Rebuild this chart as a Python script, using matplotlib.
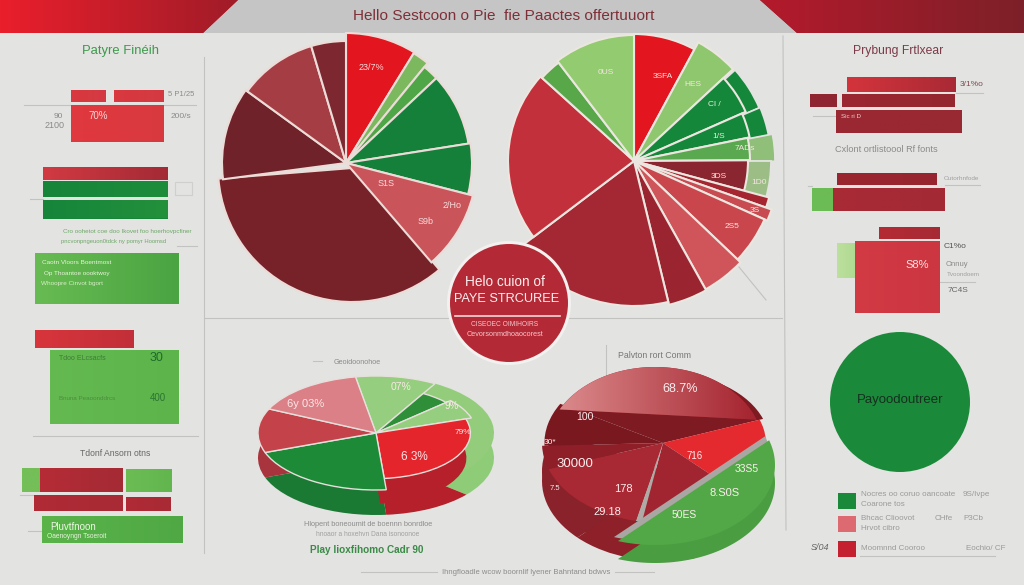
import numpy as np
import matplotlib
matplotlib.use("Agg")
import matplotlib.pyplot as plt
from matplotlib.colors import LinearSegmentedColormap
from matplotlib.patches import Circle, Polygon, Rectangle
from matplotlib.transforms import Affine2D

plt.rcParams["font.family"] = ["Liberation Sans", "DejaVu Sans"]

# === Chart values ===
pie_left_values = [8.8, 2.1, 2.1, 9.5, 6.5, 9.7, 34.2, 12.1, 10.4, 4.6]
pie_left_labels = ["23/7%", "S1S", "2/Ho", "S9b"]

pie_right_values = [7.9, 5.2, 5.3, 3.4, 3.1, 4.3, 1.2, 1.3, 5.4, 4.8, 4.3, 18.5, 22.0, 2.9, 10.4]
pie_right_labels = ["0US", "3SFA", "HES", "Cl /", "1/S", "7ADs", "3DS", "1D0", "3S", "2S5"]

pie3d_left_values = [40, 18, 24, 103, 75, 45, 55]
pie3d_left_labels = ["6y 03%", "07%", "9%", "79%", "6 3%"]

pie3d_right_values = [130, 65, 55, 3, 58, 17, 32]
pie3d_right_labels = ["68.7%", "100", "30*", "30000", "7.5", "178", "29.18", "716", "33S5", "8.S0S", "50ES"]

left_bar_widths = [35, 50, 93, 125, 125, 125, 144, 99, 129, 18, 83, 46, 89, 45, 141]
right_bar_widths = [109, 27, 113, 126, 100, 21, 112, 61, 18, 85]

# === Colours and layout ===
BG = "#e3e3e1"
GREEN = "#1a8a3a"
GREY = "#8a8a8a"

# left edge, centre y, height, left colour, right colour
left_bar_layout = [
    (71, 96, 12, "#d9383f", "#d43a42"), (114, 96, 12, "#d9383f", "#d43a42"),
    (71, 123.5, 37, "#e0383e", "#d83a40"), (43, 173.5, 13, "#d23a42", "#a32a35"),
    (43, 189, 16, "#16853a", "#1d8c3a"), (43, 209, 19, "#16853a", "#23903c"),
    (35, 278.5, 51, "#68bb52", "#4aa442"), (35, 339, 18, "#d8353c", "#c22f38"),
    (50, 387, 74, "#64ba50", "#5cb44a"), (22, 480, 24, "#74bf58", "#74bf58"),
    (40, 480, 24, "#b52c36", "#a42a34"), (126, 480.5, 23, "#6cbc54", "#62b64e"),
    (34, 503, 16, "#b02b36", "#a82a34"), (126, 504, 14, "#b02b36", "#a82a34"),
    (42, 529.5, 27, "#5ab44a", "#4fa844"),
]
right_bar_layout = [
    (847, 84.5, 15, "#d4343c", "#a92a35"), (810, 100.5, 13, "#8f2530", "#8f2530"),
    (842, 100.5, 13, "#9a2731", "#952630"), (836, 121.5, 23, "#9b2832", "#982832"),
    (837, 179, 12, "#9a2630", "#97252f"), (812, 199.5, 23, "#6cbc55", "#6cbc55"),
    (833, 199.5, 23, "#a82a35", "#a32a35"), (879, 233, 12, "#b52b34", "#a62a33"),
    (837, 260.5, 35, "#bce09e", "#b0da92"), (855, 277, 72, "#d23a44", "#cc3640"),
]

legend_swatches = [(838, 500.5, "#1a8a3a"), (838, 524, "#dd6a70"), (838, 548.5, "#c4202f")]

rules = [
    (204, 57, 204, 553), (783, 36, 786, 530), (205, 318, 782, 318), (33, 436, 198, 436),
    (24, 105, 196, 105), (30, 199, 43, 199), (177, 246, 197, 246), (80, 391, 167, 391),
    (20, 495, 34, 495), (28, 531, 42, 531), (956, 93, 983, 93), (813, 116, 836, 116),
    (945, 185, 980, 185), (808, 186, 812, 186), (940, 282, 975, 282), (860, 556, 995, 556),
    (361, 572, 437, 572), (615, 572, 654, 572), (606, 345, 606, 378), (313, 361, 322, 361),
    (739, 267, 766, 300),
]

captions = [
    # x, y, text, size, colour, weight
    (504, 16, "Hello Sestcoon o Pie  fie Paactes offertuuort", 11.1, "#7d3038", "normal"),
    (121, 51, "Patyre Finéih", 9.4, "#3c9a4c", "normal"),
    (898, 51, "Prybung Frtlxear", 8.7, "#7d3a48", "normal"),
    (181, 95, "5 P1/25", 5.5, GREY, "normal"), (58, 116, "90", 6, GREY, "normal"),
    (55, 125, "2100", 6.5, GREY, "normal"), (98, 116, "70%", 7, "#f6d6d6", "normal"),
    (181, 116, "200/s", 6, GREY, "normal"),
    (127, 232, "Cro oohetot coe doo Ikovet foo hoerhovpcfiner", 4.5, "#6da868", "normal"),
    (114, 242, "pncvonpngeuon0tdck ny pomyr Hoomsd", 4.2, "#6da868", "normal"),
    (77, 263, "Caotn Vloors Boentmost", 4.6, "#e8f4dc", "normal"),
    (77, 273, "Op Thoantoe oooktwoy", 4.6, "#e8f4dc", "normal"),
    (72, 283, "Whoopre Cinvot bgort", 4.6, "#d8eec8", "normal"),
    (82, 358, "Tdoo ELcsacfs", 5, "#3f7c38", "normal"), (156, 358, "30", 9, "#1f6a2c", "normal"),
    (87, 399, "Bnuna Peaoonddrcs", 4.5, "#4c8c40", "normal"), (158, 398, "400", 7, "#2c7432", "normal"),
    (115, 453, "Tdonf Ansorn otns", 6.2, "#666666", "normal"),
    (73, 527, "Pluvtfnoon", 7, "#eef7e4", "normal"), (77, 536, "Oaenoyngn Tsoeroit", 4.8, "#e8f4dc", "normal"),
    (972, 85, "3/1%o", 6, "#7d4a50", "normal"), (851, 116, "Sic ri D", 4.5, "#f0cdd0", "normal"),
    (886, 150, "Cxlont ortlistoool Rf fonts", 6.6, GREY, "normal"),
    (961, 178, "Outorhnfode", 4.6, "#a0a0a0", "normal"), (955, 247, "C1%o", 6, "#555555", "normal"),
    (917, 265, "S8%", 8, "#fbe4e4", "normal"), (957, 265, "Onnuy", 5.5, GREY, "normal"),
    (963, 274, "Tvoondoem", 4.5, "#a0a0a0", "normal"), (958, 290, "7C4S", 6, "#666666", "normal"),
    (900, 400, "Payoodoutreer", 9.5, "#15301f", "normal"),
    (357, 363, "Geoidoonohoe", 5.2, GREY, "normal"),
    (368, 525, "Hlopent boneoumit de boennn bonrdloe", 5.3, "#8c8c8c", "normal"),
    (368, 535, "hnoaor a hoxehvn Dana isonoonoe", 4.8, "#a0a0a0", "normal"),
    (367, 550, "Play lioxfihomo Cadr 90", 7.2, "#3c8a48", "bold"),
    (526, 572, "Ihngfloadle wcow boornlif lyener Bahntand bdwvs", 5.5, "#8c8c8c", "normal"),
    (655, 356, "Palvton rort Comm", 6.3, "#777777", "normal"),
    (505, 282, "Helo cuion of", 9.8, "#fbeeee", "normal"),
    (507, 299, "PAYE STRCUREE", 9.2, "#fbeeee", "normal"),
    (505, 325, "CISEOEC OIMIHOIRS", 4.8, "#f2c8cc", "normal"),
    (505, 334, "Cevorsonmdhoaocorest", 5.2, "#f2c8cc", "normal"),
]
legend_texts = [
    (861, 494, "Nocres oo coruo oancoate"), (861, 504, "Coarone tos"), (963, 495, "9S/Ivpe"),
    (861, 519, "Bhcac Clioovot"), (861, 528, "Hrvot cibro"), (935, 518, "CHfe"), (963, 518, "P3Cb"),
    (861, 549, "Moomnnd Cooroo"), (966, 549, "Eochio/ CF"),
]

fig = plt.figure(figsize=(1024 / 100, 585 / 100), dpi=100, facecolor=BG)
ax = fig.add_axes([0, 0, 1, 1])
ax.set_xlim(0, 1024)
ax.set_ylim(585, 0)
ax.axis("off")


def ramp(c0, c1):
    return LinearSegmentedColormap.from_list("r", [c0, c1])


def shade(patch, x0, x1, y0, y1, c0, c1, z):
    im = ax.imshow(np.linspace(0, 1, 128).reshape(1, -1), cmap=ramp(c0, c1), extent=(x0, x1, y1, y0),
                   aspect="auto", interpolation="bilinear", zorder=z)
    im.set_clip_path(patch)


def draw_bars(widths, layout):
    for w, (x, yc, h, c0, c1) in zip(widths, layout):
        bar = ax.barh(yc, w, left=x, height=h, color=c0, edgecolor="none", zorder=3)[0]
        shade(bar, x, x + w, yc - h / 2, yc + h / 2, c0, c1, 3.1)


def draw_pie(values, colors, start, cx, cy, rx, ry, radii=None, z=2, edge=BG, lw=1.3, total=None):
    # total given means a partial pie: values are shares of that total, not of their own sum
    vals = values if total is None else np.array(values, dtype=float) / total
    wedges, _ = ax.pie(vals, colors=colors, startangle=start - 90, counterclock=True, radius=1,
                       frame=True, labeldistance=None, normalize=total is None,
                       wedgeprops=dict(edgecolor=edge, linewidth=lw))
    tr = Affine2D().scale(rx, ry).translate(cx, cy) + ax.transData
    for i, w in enumerate(wedges):
        w.set_transform(tr)
        w.set_zorder(z)
        if radii is not None:
            w.set_radius(radii[i])
    return wedges


def draw_chord(a0, a1, cx, cy, rx, ry, color, z):
    a = np.radians(np.linspace(a0, a1, 80))
    chord = Polygon(np.column_stack([cx + rx * np.sin(a), cy - ry * np.cos(a)]), closed=True,
                    facecolor=color, edgecolor="none", zorder=z)
    ax.add_patch(chord)
    return chord


# === Header ===
ax.add_patch(Rectangle((0, 0), 1024, 33, facecolor="#c6c5c6", edgecolor="none", zorder=1))
head_left = Polygon([(0, 0), (238, 0), (203, 33), (0, 33)], closed=True, facecolor="#c0202c", edgecolor="none", zorder=1.1)
head_right = Polygon([(760, 0), (797, 33), (1024, 33), (1024, 0)], closed=True, facecolor="#8f2030", edgecolor="none", zorder=1.1)
ax.add_patch(head_left)
ax.add_patch(head_right)
shade(head_left, 0, 238, 0, 33, "#ea1f2c", "#a01c28", 1.2)
shade(head_right, 760, 1024, 0, 33, "#b41a2c", "#7d2028", 1.2)

# === Thin rules ===
for x0, y0, x1, y1 in rules:
    ax.plot([x0, x1], [y0, y1], color="#c2c2c0", lw=0.8, zorder=1.5)
ax.add_patch(Rectangle((175, 182), 17, 13, facecolor="none", edgecolor="#cfcfcd", lw=0.8, zorder=1.5))

# === Top pies ===
left_colors = ["#e3151f", "#7cb85e", "#4ea647", "#15803a", "#15803a", "#c9545a", "#772229", "#6f2229", "#a53e44", "#7d2730"]
left_radii = [130, 129, 124, 124, 126, 131, 134, 124, 122, 122]
left_wedges = draw_pie(pie_left_values, left_colors, 0, 346, 163, 1, 1, radii=left_radii, edge="#ecdcd8", lw=1.5)
# the big maroon slice sits a little off centre, lower and to the right
left_wedges[6].set_center((6, 5))
left_wedges[6].set_theta2(left_wedges[6].theta2 + 3)
left_wedges[6].set_zorder(1.9)

right_colors = ["#e3151f", "#8fc76e", "#15873a", "#15873a", "#5aa850", "#8a2630", "#a52530", "#c94b52",
                "#c9464c", "#d0555a", "#9a2530", "#a32833", "#c2303c", "#58a84a", "#93cb70"]
right_radii = [127, 135, 122, 118, 116, 114, 140, 146, 143, 147, 148, 145, 126, 124, 126]
# detached outer pieces of the right pie, under the main wedges
draw_pie(pie_right_values[2:3], ["#15873a"], 48, 634, 161, 1, 1, radii=[136], z=1.8, total=100)
draw_pie(pie_right_values[3:4], ["#15873a"], 67, 634, 161, 1, 1, radii=[137], z=1.8, total=100)
draw_pie(pie_right_values[4:5], ["#8fbf78"], 79, 634, 161, 1, 1, radii=[141], z=1.8, total=100)
draw_pie(pie_right_values[5:6], ["#9dbd86"], 90, 634, 161, 1, 1, radii=[137], z=1.8, total=100)
draw_pie(pie_right_values, right_colors, 0, 634, 161, 1, 1, radii=right_radii, edge="#ece6e0", lw=1.5)

label_pos_left = [(371, 68), (386, 184), (452, 205), (426, 221)]
for (x, y), s in zip(label_pos_left, pie_left_labels):
    ax.text(x, y, s, color="#f8dcdc", fontsize=6.5, ha="center", va="center", zorder=5)
label_pos_right = [(606, 72), (663, 76), (693, 84), (714, 104), (719, 136), (745, 148), (719, 176), (759, 183), (755, 211), (732, 227)]
for (x, y), s in zip(label_pos_right, pie_right_labels):
    ax.text(x, y, s, color="#f4e6e0", fontsize=6, ha="center", va="center", zorder=5)

# === Centre badge ===
ax.add_patch(Circle((509, 303), 62, facecolor="#f2f1ef", edgecolor="none", zorder=3.5))
ax.add_patch(Circle((509, 303), 59, facecolor="#b32a36", edgecolor="none", zorder=3.6))
ax.plot([455, 560], [316, 316], color="#f4d8d8", lw=1.2, zorder=3.7)

# === Left 3D pie ===
lx, ly, lrx, lry, ldepth = 376, 433, 118, 57, 25
draw_pie([100, 45, 75, 45, 55, 40], ["#8fcc78", "#b5202a", "#1a7a34", "#a8343d", "#b84850", "#8fcc78"], 30,
         lx, ly + ldepth, lrx, lry, z=2, edge="none", lw=0)
draw_pie([100], ["#93cd7c"], 30, lx, ly, lrx, lry, z=2.1, edge="none", lw=0, total=360)
draw_pie(pie3d_left_values[3:4], ["#b5202a"], 72, lx - 4, ly + ldepth, lrx, lry, radii=[0.8], z=2.2, edge="none", lw=0, total=360)
draw_pie(pie3d_left_values, ["#94ce7e", "#2f8f38", "#94ce7e", "#e4262c", "#1d8a38", "#c4434a", "#da8086"], 350,
         lx, ly, lrx, lry, radii=[1, 0.8, 0.85, 0.8, 1, 1, 1], z=2.3, edge="#e6e0dc", lw=1)
label_pos_3dl = [(306, 404), (401, 387), (452, 406), (463, 433), (414, 457)]
for (x, y), s, fs in zip(label_pos_3dl, pie3d_left_labels, [8, 7.5, 7, 6, 8.5]):
    ax.text(x, y, s, color="#fbe8e8", fontsize=fs, ha="center", va="center", zorder=5)

# === Right 3D pie ===
rx3, ry3, rrx, rry, rdepth = 663, 443, 121, 80, 38
draw_pie([120], ["#8a2029"], 180, rx3, ry3 + 28, rrx, rry, z=2, edge="none", lw=0, total=360)
draw_pie([75, 60, 58], ["#c61f28", "#8e2029", "#8a222c"], 90, rx3, ry3 + rdepth, rrx, rry, radii=[0.85, 1, 1], z=2.1, edge="none", lw=0, total=360)
draw_pie(pie3d_right_values, ["#7e1a22", "#e42a2e", "#a02530", "#b0aaa6", "#a82833", "#8e1f29", "#7a1820"], 300,
         rx3, ry3, rrx, rry, radii=[0.88, 0.85, 1, 1, 1, 1, 0.98], z=2.3, edge="none", lw=0)
# top of the big slice is a chord above its dark side band
slab = draw_chord(298, 430, 655, 447, 108, 80, "#a8202c", 2.35)
shade(slab, 550, 765, 365, 425, "#dd8f90", "#a21f2b", 2.4)
# green slice cut along a chord, with its gray edge and side
draw_chord(72, 198, rx3 - 12, ry3 + 18, rrx - 1, rry, "#a9a6a4", 2.55)
draw_chord(72, 198, rx3 - 8, ry3 + 40, rrx - 1, rry, "#4a9d40", 2.6)
draw_chord(72, 198, rx3 - 8, ry3 + 22, rrx - 1, rry, "#52a846", 2.7)
label_pos_3dr = [(680, 389), (585, 417), (550, 442), (575, 464), (555, 488), (623, 489), (607, 512), (695, 456), (747, 469), (725, 493), (684, 515)]
sizes_3dr = [9, 7.5, 6, 9.5, 5.5, 8, 8, 7, 7.5, 8, 7.5]
for (x, y), s, fs in zip(label_pos_3dr, pie3d_right_labels, sizes_3dr):
    ax.text(x, y, s, color="#fbeeee", fontsize=fs, ha="center", va="center", zorder=5)

# === Bars on both sides ===
draw_bars(left_bar_widths, left_bar_layout)
draw_bars(right_bar_widths, right_bar_layout)

# === Green circle and legend ===
ax.add_patch(Circle((900, 402), 70, facecolor=GREEN, edgecolor="none", zorder=2))
for x, yc, c in legend_swatches:
    ax.bar(x + 9, 16, bottom=yc - 8, width=18, color=c, zorder=3)
for x, y, s in legend_texts:
    ax.text(x, y, s, color="#9a9a9a", fontsize=5.8, ha="left", va="center", zorder=5)
ax.text(820, 548, "S/04", color="#666666", fontsize=6.5, style="italic", ha="center", va="center", zorder=5)

for x, y, s, fs, c, weight in captions:
    ax.text(x, y, s, color=c, fontsize=fs, fontweight=weight, ha="center", va="center", zorder=5)

ax.set_xlim(0, 1024)
ax.set_ylim(585, 0)
fig.savefig("out.png", dpi=100, facecolor=BG)
